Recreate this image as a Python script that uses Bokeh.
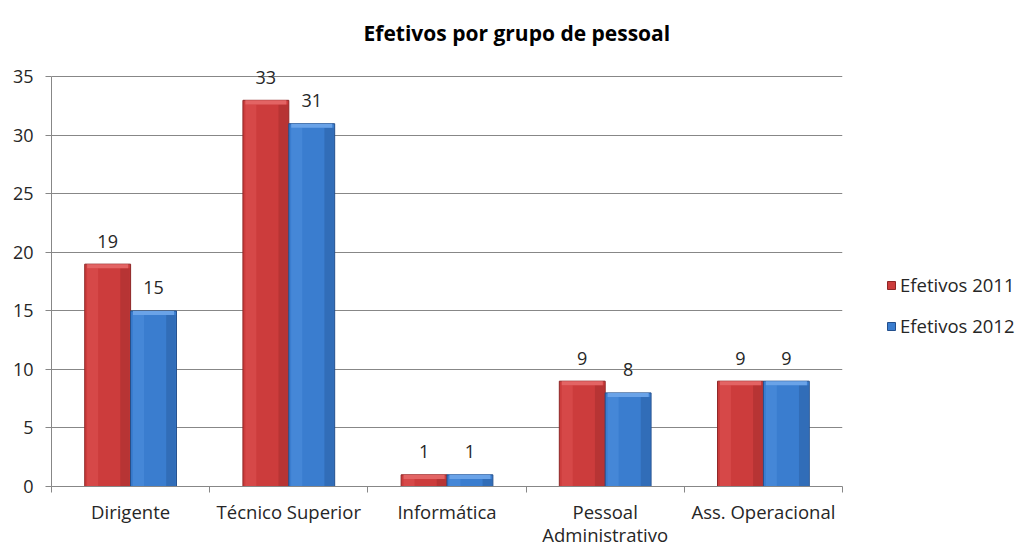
from bokeh.plotting import figure
from bokeh.models import (ColumnDataSource, Legend, LegendItem, LabelSet,
                          FixedTicker, Range1d)
from bokeh.core.properties import value
from bokeh.embed import file_html
from bokeh.resources import INLINE

# ---- data ----
categories = ["Dirigente", "Técnico Superior", "Informática",
              "Pessoal\nAdministrativo", "Ass. Operacional"]
efetivos_2011 = [19, 33, 1, 9, 9]
efetivos_2012 = [15, 31, 1, 8, 9]
series_names = ["Efetivos 2011", "Efetivos 2012"]
y_ticks = [0, 5, 10, 15, 20, 25, 30, 35]
title_text = "Efetivos por grupo de pessoal"

# ---- style ----
FONT = "Open Sans"
BAR_W = 0.29
OFFSETS = [-0.145, 0.145]
STYLES = [
    dict(fill="#CC3C3C", edge="#8E2626", top="#E36464", light="#DC5050"),
    dict(fill="#3A7DCF", edge="#234F8C", top="#6AA3E8", light="#4C8DDC"),
]
GRAY = "#878787"
TXT = "#262626"
PX_PER_UNIT = 410 / 35
Y_END = 37  # headroom so the top value label is not clipped

n = len(categories)
p = figure(frame_width=791, frame_height=round(PX_PER_UNIT * Y_END),
           x_range=Range1d(0, n), y_range=Range1d(0, Y_END),
           output_backend="svg", toolbar_location=None,
           min_border_left=51, min_border_right=176, min_border_top=53, min_border_bottom=60)
p.outline_line_color = None
p.background_fill_color = "white"
p.border_fill_color = "white"

p.title.text = title_text
p.title.align = "left"
p.title.offset = 312
p.title.text_font = FONT
p.title.text_font_size = "21px"
p.title.text_font_style = "bold"
p.title.text_color = "black"
p.title.standoff = 14

legend_items = []
for j, (name, vals) in enumerate(zip(series_names, [efetivos_2011, efetivos_2012])):
    st = STYLES[j]
    xs = [i + 0.5 + OFFSETS[j] for i in range(n)]
    src = ColumnDataSource(dict(x=xs, top=vals, lab=[str(v) for v in vals],
                                bev=[v - 0.35 for v in vals],
                                xr=[x + BAR_W / 2 - 0.035 for x in xs],
                                xl=[x - BAR_W / 2 + 0.05 for x in xs]))
    r = p.vbar(x="x", width=BAR_W, top="top", bottom=0, source=src,
               fill_color=st["fill"], line_color=st["edge"], line_width=1)
    p.vbar(x="xl", width=0.07, top="bev", bottom=0, source=src,
           fill_color=st["light"], fill_alpha=0.6, line_color=None)
    p.vbar(x="xr", width=0.06, top="bev", bottom=0, source=src,
           fill_color=st["edge"], fill_alpha=0.35, line_color=None)
    p.vbar(x="x", width=BAR_W - 0.03, top="top", bottom="bev", source=src,
           fill_color=st["top"], line_color=None)
    labels = LabelSet(x="x", y="top", text="lab", source=src, text_align="center",
                      text_baseline="middle", y_offset=23, text_font=value(FONT),
                      text_font_size=value("18px"), text_color=TXT)
    p.add_layout(labels)
    legend_items.append(LegendItem(label=name, renderers=[r]))

# x axis: labels at centres, ticks at category boundaries
p.xaxis.ticker = FixedTicker(ticks=[i + 0.5 for i in range(n)],
                             minor_ticks=[float(i) for i in range(n + 1)])
p.xaxis.major_label_overrides = {i + 0.5: c for i, c in enumerate(categories)}
p.xaxis.major_tick_line_color = None
p.xaxis.major_tick_out = 0
p.xaxis.major_tick_in = 0
p.xaxis.minor_tick_line_color = GRAY
p.xaxis.minor_tick_out = 6
p.xaxis.minor_tick_in = 0
p.xaxis.axis_line_color = GRAY
p.xaxis.major_label_text_font = FONT
p.xaxis.major_label_text_font_size = "18.5px"
p.xaxis.major_label_text_color = TXT
p.xaxis.major_label_text_line_height = 0.95
p.xaxis.major_label_standoff = 6

p.yaxis.ticker = FixedTicker(ticks=y_ticks)
p.yaxis.bounds = (0, y_ticks[-1])
p.yaxis.minor_tick_line_color = None
p.yaxis.major_tick_line_color = GRAY
p.yaxis.major_tick_out = 6
p.yaxis.major_tick_in = 0
p.yaxis.axis_line_color = GRAY
p.yaxis.major_label_text_font = FONT
p.yaxis.major_label_text_font_size = "18px"
p.yaxis.major_label_text_color = TXT
p.yaxis.major_label_standoff = 12

p.xgrid.grid_line_color = None
p.ygrid.grid_line_color = GRAY
p.ygrid.grid_line_width = 1

legend = Legend(items=legend_items, location=(44, 148), orientation="vertical",
                glyph_width=10, glyph_height=10, label_standoff=4, spacing=16,
                padding=0, margin=0, border_line_color=None, background_fill_alpha=0,
                label_text_font=FONT, label_text_font_size="18.5px", label_text_color=TXT)
p.add_layout(legend, "right")

open("out.html", "w").write(file_html(p, INLINE))
